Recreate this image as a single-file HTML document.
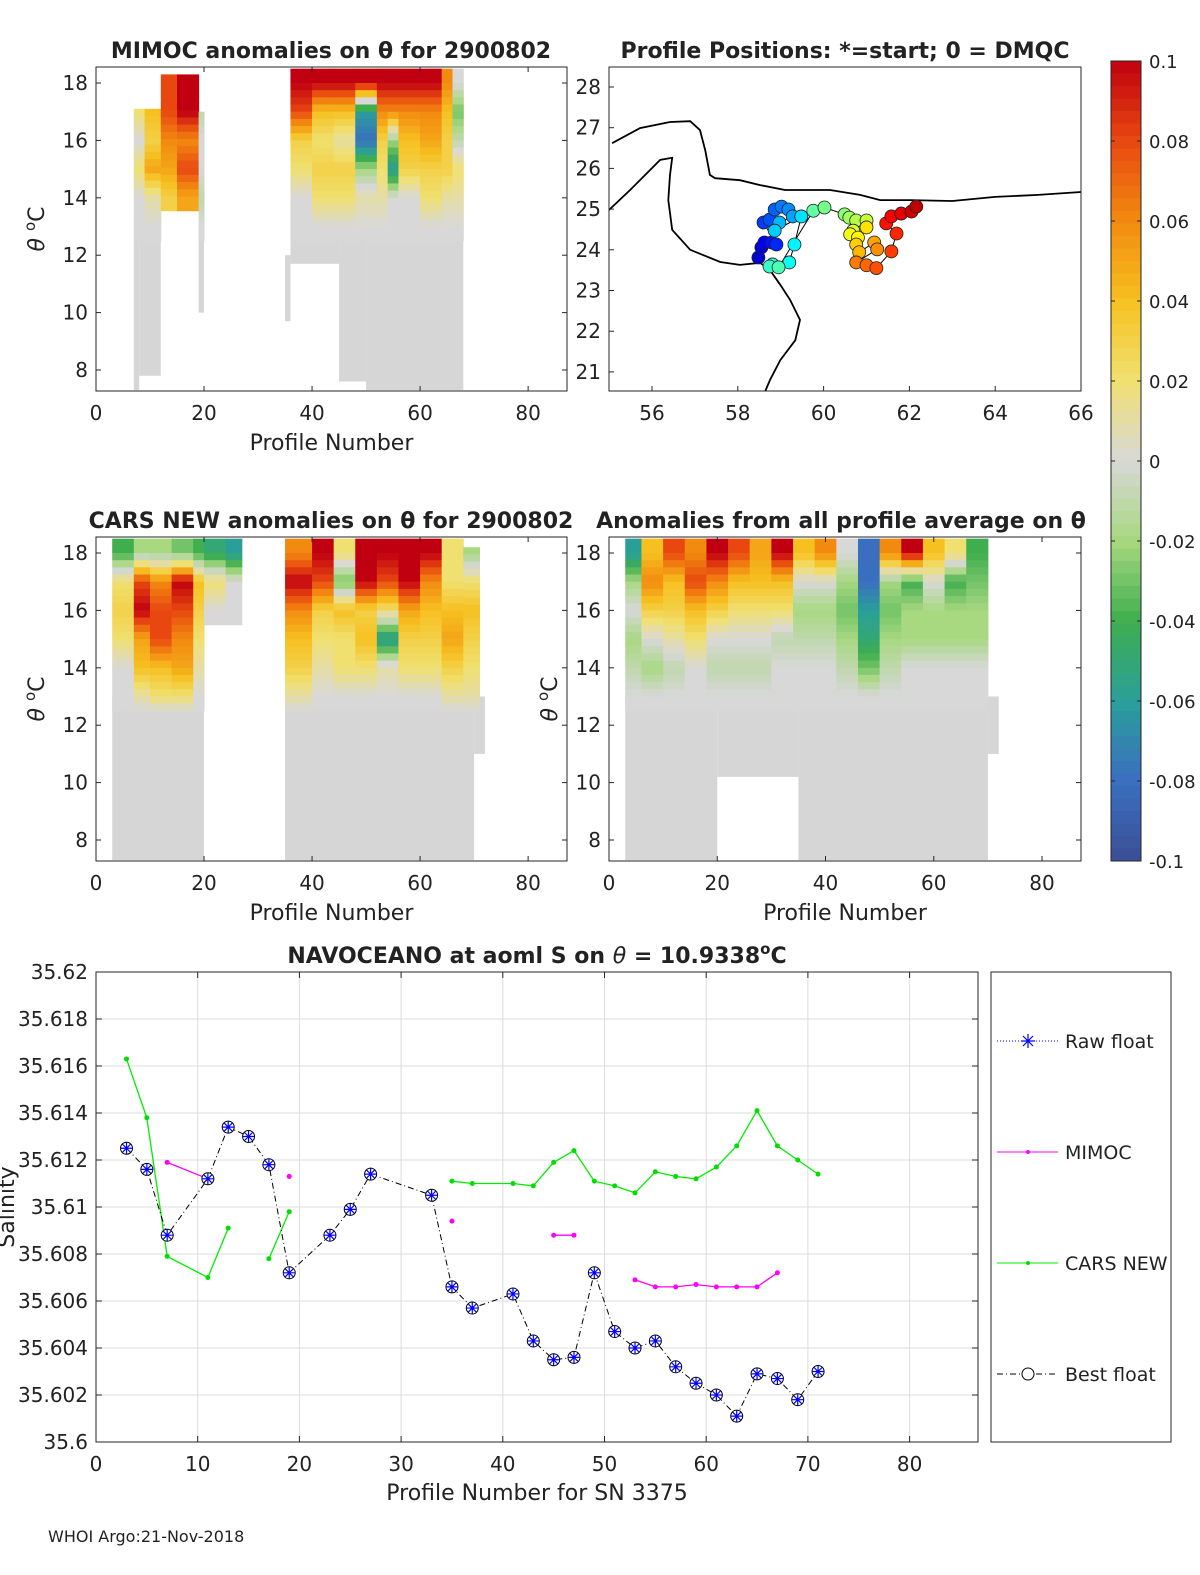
<!DOCTYPE html>
<html><head><meta charset="utf-8"><style>
html,body{margin:0;padding:0;background:#fff;width:1200px;height:1575px;overflow:hidden}
svg text{font-family:"DejaVu Sans","Liberation Sans",sans-serif}
</style></head><body>
<svg id="fig" width="1200" height="1575" viewBox="0 0 1200 1575" xmlns="http://www.w3.org/2000/svg"></svg>
<script>
// ---------- data ----------
const bandTop = [18.56, 17.5, 16.5, 15.5, 14.5, 13.5];
const bandBot = [17.5, 16.5, 15.5, 14.5, 13.5, 12.5];
// MIMOC panel
const mimocCols = [[7,9,17.1],[9,12,17.1],[12,15,18.3],[15,19,18.3],[19,20,17.0],[36,40,18.5],[40,44,18.5],[44,48,18.5],[48,52,18.5],[52,54,18.5],[54,56,18.5],[56,60,18.5],[60,64,18.5],[64,66,18.5],[66,68,18.5]];
const mimocVals = [[0.04,0.02,0.0,0.02,0.0,0],[0.06,0.04,0.03,0.05,0.01,0],[0.08,0.08,0.06,0.05,0.03,null],[0.1,0.1,0.06,0.08,0.05,null],[-0.01,-0.01,0,0,-0.01,0],[0.1,0.08,0.03,0.02,0.0,0],[0.1,0.04,0.02,0.03,0.02,0],[0.1,0.04,0.01,0.03,0.02,0],[0.1,-0.06,-0.08,-0.02,0.01,0],[0.1,0.06,0.03,0.02,0.01,0],[0.1,0.06,-0.02,-0.06,0.0,0],[0.1,0.06,0.04,0.03,0.0,0],[0.1,0.06,0.05,0.03,0.02,0],[0.06,0.04,0.03,0.03,0.01,0],[0.0,-0.03,-0.01,0.02,0.01,0]];
const mimocGrey = [[7,8,7.3,13],[8,12,7.8,13],[19,20,10,13],[35,36,9.7,12],[36,45,11.7,12.6],[45,50,7.6,12.6],[50,68,7.3,12.6]];
// CARS panel
const carsCols = [[3,7,18.5],[7,10,18.5],[10,14,18.5],[14,18,18.5],[18,20,18.5],[20,24,18.5],[24,27,18.5],[35,40,18.5],[40,44,18.5],[44,48,18.5],[48,52,18.5],[52,56,18.5],[56,60,18.5],[60,64,18.5],[64,68,18.5],[68,71,18.2]];
const carsVals = [[-0.04,0.02,0.03,0.02,0.0,0],[-0.02,0.08,0.1,0.05,0.04,0.01],[-0.02,0.06,0.08,0.08,0.04,0.02],[-0.03,0.1,0.08,0.06,0.05,0.02],[-0.04,0.04,0.03,0.02,0.01,0],[-0.05,0.02,0.0,null,null,null],[-0.06,0.0,0.0,null,null,null],[0.06,0.1,0.06,0.04,0.03,0.01],[0.1,0.08,0.03,0.02,0.01,0],[0.02,-0.03,0.04,0.02,0.02,0.0],[0.1,0.1,0.03,0.04,0.02,0.0],[0.1,0.08,0.02,-0.06,0.01,0],[0.1,0.1,0.05,0.03,0.02,0],[0.1,0.06,0.04,0.03,0.02,0],[0.02,0.02,0.04,0.05,0.03,0.01],[-0.02,0.02,0.04,0.03,0.02,0.01]];
const carsGrey = [[3,20,7.3,13],[35,70,7.3,13],[70,72,11,13]];
// all-profile average panel
const avgCols = [[3,6,18.5],[6,10,18.5],[10,14,18.5],[14,18,18.5],[18,22,18.5],[22,26,18.5],[26,30,18.5],[30,34,18.5],[34,38,18.5],[38,42,18.5],[42,46,18.5],[46,50,18.5],[50,54,18.5],[54,58,18.5],[58,62,18.5],[62,66,18.5],[66,70,18.5]];
const avgVals = [[-0.06,-0.02,0.0,-0.02,-0.01,0],[0.04,0.06,0.03,0.0,-0.02,0],[0.08,0.04,0.03,0.01,-0.01,0],[0.06,0.08,0.04,0.02,0,0],[0.1,0.06,0.03,0.0,-0.01,0],[0.08,0.04,0.02,0.0,-0.01,0],[0.05,0.04,0.02,0.0,-0.01,0],[0.1,0.04,0.02,-0.01,0,0],[0.04,0.0,-0.02,-0.01,0,0],[0.06,0.0,-0.02,-0.01,0,0],[0.0,-0.02,-0.03,-0.02,-0.01,0],[-0.08,-0.08,-0.06,-0.05,-0.03,0],[0.06,-0.02,-0.03,-0.02,-0.01,0],[0.1,-0.04,-0.02,-0.02,0,0],[0.04,0.0,-0.02,-0.02,0,0],[0.02,-0.04,-0.02,-0.02,0,0],[-0.04,-0.03,-0.02,-0.02,0,0]];
const avgGrey = [[3,20,7.3,13],[20,35,10.2,13],[35,70,7.3,13],[70,72,11,13]];
// map
const mapLon = [58.48,58.55,58.62,58.79,58.9,58.6,58.74,58.86,59.02,59.18,59.28,58.97,58.86,59.48,59.32,59.2,58.81,58.74,58.95,59.76,60.02,60.49,60.6,60.76,61.0,60.69,60.62,60.8,61.0,60.76,60.83,61.18,61.25,60.76,61.0,61.23,61.58,61.7,61.46,61.58,61.81,62.05,62.16];
const mapLat = [23.81,24.06,24.18,24.18,24.13,24.67,24.74,24.99,25.06,24.99,24.82,24.67,24.47,24.82,24.13,23.69,23.64,23.59,23.57,24.96,25.04,24.87,24.79,24.72,24.72,24.47,24.38,24.3,24.55,24.13,23.94,24.18,24.01,23.69,23.62,23.55,23.96,24.4,24.65,24.82,24.89,24.94,25.06];
const iranLon = [55.07,55.72,56.42,56.89,57.12,57.24,57.35,57.47,58.05,58.52,59.1,59.45,60.15,60.85,61.32,62.02,63.0,64.0,65.0,66.0];
const iranLat = [26.62,26.99,27.14,27.16,26.94,26.45,25.84,25.76,25.71,25.59,25.47,25.47,25.47,25.35,25.22,25.22,25.2,25.3,25.35,25.42];
const arabLon = [55.0,55.49,56.19,56.47,56.42,56.38,56.47,56.89,57.59,58.05,58.52,58.75,58.99,59.22,59.45,59.34,58.99,58.75,58.64];
const arabLat = [24.98,25.47,26.21,26.26,25.84,25.22,24.49,24.0,23.7,23.63,23.68,23.5,23.14,22.77,22.28,21.78,21.29,20.8,20.53];
// salinity line chart
const profX = [3,5,7,11,13,15,17,19,23,25,27,33,35,37,41,43,45,47,49,51,53,55,57,59,61,63,65,67,69,71];
const bestS = [35.6125,35.6116,35.6088,35.6112,35.6134,35.6130,35.6118,35.6072,35.6088,35.6099,35.6114,35.6105,35.6066,35.6057,35.6063,35.6043,35.6035,35.6036,35.6072,35.6047,35.6040,35.6043,35.6032,35.6025,35.6020,35.6011,35.6029,35.6027,35.6018,35.6030];
const mimocX = [7,11,null,19,null,35,null,45,47,null,53,55,57,59,61,63,65,67];
const mimocS = [35.6119,35.6112,null,35.6113,null,35.6094,null,35.6088,35.6088,null,35.6069,35.6066,35.6066,35.6067,35.6066,35.6066,35.6066,35.6072];
const carsX = [3,5,7,11,13,null,17,19,null,35,37,41,43,45,47,49,51,53,55,57,59,61,63,65,67,69,71];
const carsS = [35.6163,35.6138,35.6079,35.6070,35.6091,null,35.6078,35.6098,null,35.6111,35.6110,35.6110,35.6109,35.6119,35.6124,35.6111,35.6109,35.6106,35.6115,35.6113,35.6112,35.6117,35.6126,35.6141,35.6126,35.6120,35.6114];
const salTicks = [35.6,35.602,35.604,35.606,35.608,35.61,35.612,35.614,35.616,35.618,35.62];
const salTickLabels = ["35.6","35.602","35.604","35.606","35.608","35.61","35.612","35.614","35.616","35.618","35.62"];
const profTicks = [0,10,20,30,40,50,60,70,80];
const cbTicks = [0.1,0.08,0.06,0.04,0.02,0,-0.02,-0.04,-0.06,-0.08,-0.1];
const cbLabels = ["0.1","0.08","0.06","0.04","0.02","0","-0.02","-0.04","-0.06","-0.08","-0.1"];

// ---------- helpers ----------
const NS="http://www.w3.org/2000/svg";
const svg=document.getElementById('fig');
function mk(tag,attrs,parent){const e=document.createElementNS(NS,tag);for(const k in attrs)e.setAttribute(k,attrs[k]);(parent||svg).appendChild(e);return e;}
function txt(s,x,y,size,anchor,weight,parent){const t=mk('text',{x:x,y:y,'font-size':size,'text-anchor':anchor||'middle','font-weight':weight||'normal',fill:'#222'},parent);t.textContent=s;return t;}
const stops=[[-0.1,[58,79,150]],[-0.08,[58,111,192]],[-0.06,[42,159,154]],[-0.04,[63,174,79]],[-0.02,[168,216,128]],[0,[216,216,216]],[0.02,[240,224,112]],[0.04,[246,192,32]],[0.06,[242,138,16]],[0.08,[232,72,16]],[0.1,[192,0,16]]];
function cmap(v){v=Math.max(-0.1,Math.min(0.1,v));for(let i=0;i<stops.length-1;i++){const a=stops[i],b=stops[i+1];if(v<=b[0]){const t=(v-a[0])/(b[0]-a[0]);const c=a[1].map((x,j)=>Math.round(x+(b[1][j]-x)*t));return `rgb(${c})`;}}return 'rgb(192,0,16)';}
function jet(t){const r=Math.max(0,Math.min(1,1.5-Math.abs(4*t-3))),g=Math.max(0,Math.min(1,1.5-Math.abs(4*t-2))),b=Math.max(0,Math.min(1,1.5-Math.abs(4*t-1)));return `rgb(${Math.round(r*255)},${Math.round(g*255)},${Math.round(b*255)})`;}
function grp(name){const g=mk('g',{});return g;}

function colValue(vals,th){
  // interpolate vertically between band centers
  const centers=bandTop.map((t,j)=>(Math.min(t,18.5)+bandBot[j])/2);
  if(th>=centers[0])return vals[0];
  for(let j=0;j<centers.length-1;j++){
    if(th<=centers[j]&&th>=centers[j+1]){const a=vals[j],b=vals[j+1];if(a===null)return b;if(b===null)return a;const t=(centers[j]-th)/(centers[j]-centers[j+1]);return a+(b-a)*t;}
  }
  const last=vals[vals.length-1];return last===null?null:last*(th-12.5)/(centers[centers.length-1]-12.5);
}

function heatPanel(name,X0,X1,Y0,Y1,yAt18,yAt8,cols,vals,grey,title,titleX){
  const g=grp(name);
  const sx=p=>X0+p*((X1-X0)/87.2);
  const sy=th=>yAt8+(th-8)*(yAt18-yAt8)/10;
  grey.forEach(r=>{const e=mk('rect',{x:sx(r[0]),y:sy(r[3]),width:sx(r[1])-sx(r[0]),height:sy(r[2])-sy(r[3]),fill:'#d6d6d6'},g);
    });
  const step=0.25;
  cols.forEach((c,i)=>{
    for(let th=c[2];th>12.5;th-=step){
      const lo=Math.max(12.5,th-step);const v=colValue(vals[i],(th+lo)/2);
      const bi=bandTop.findIndex((t,j)=>(th+lo)/2<=t&&(th+lo)/2>bandBot[j]);
      if(v===null||(bi>=0&&vals[i][bi]===null))continue;
      const e=mk('rect',{x:sx(c[0]),y:sy(th),width:sx(c[1])-sx(c[0])+0.5,height:sy(lo)-sy(th)+0.5,fill:cmap(v)},g);
      
    }});
  mk('rect',{x:X0,y:Y0,width:X1-X0,height:Y1-Y0,fill:'none',stroke:'#262626','stroke-width':1},g);
  [0,20,40,60,80].forEach(p=>{mk('line',{x1:sx(p),x2:sx(p),y1:Y1,y2:Y1-5,stroke:'#262626'},g);mk('line',{x1:sx(p),x2:sx(p),y1:Y0,y2:Y0+5,stroke:'#262626'},g);
    const t=txt(String(p),sx(p),Y1+29,20,'middle','normal',g);});
  [8,10,12,14,16,18].forEach(th=>{mk('line',{x1:X0,x2:X0+5,y1:sy(th),y2:sy(th),stroke:'#262626'},g);mk('line',{x1:X1,x2:X1-5,y1:sy(th),y2:sy(th),stroke:'#262626'},g);
    const t=txt(String(th),X0-8,sy(th)+7,20,'end','normal',g);});
  const tt=txt(title,titleX,Y0-9,22,'middle','bold',g);
  const t=txt('Profile Number',(X0+X1)/2,Y1+59,22,'middle','normal',g);
  const ty=mk('text',{x:0,y:0,'font-size':22,'text-anchor':'middle',fill:'#222',transform:`translate(${X0-52},${(Y0+Y1)/2}) rotate(-90)`},g);ty.innerHTML='<tspan font-style="italic">θ</tspan> <tspan baseline-shift="super" font-size="15">o</tspan>C';
}

heatPanel('mimoc-anomaly-panel',96,567,67,391,83,370,mimocCols,mimocVals,mimocGrey,'MIMOC anomalies on θ  for 2900802',331);
heatPanel('cars-anomaly-panel',96,567,537,861,553,840,carsCols,carsVals,carsGrey,'CARS NEW anomalies on θ for 2900802',331);
heatPanel('average-anomaly-panel',609,1081,537,861,553,840,avgCols,avgVals,avgGrey,'Anomalies from all profile average on θ',841);

// ---------- map ----------
(function(){
  const g=grp('profile-position-map');
  const X0=609,X1=1081,Y0=67,Y1=391;
  const sx=l=>652+(l-56)*42.9, sy=la=>87+(28-la)*40.7;
  const mkpath=(lo,la)=>lo.map((v,i)=>(i?'L':'M')+sx(v).toFixed(1)+','+sy(la[i]).toFixed(1)).join('');
  let p=mk('path',{d:mkpath(iranLon,iranLat),fill:'none',stroke:'#000','stroke-width':1.8},g);
  p=mk('path',{d:mkpath(arabLon,arabLat),fill:'none',stroke:'#000','stroke-width':1.8},g);
  p=mk('path',{d:mapLon.map((v,i)=>(i?'L':'M')+sx(v).toFixed(1)+','+sy(mapLat[i]).toFixed(1)).join(''),fill:'none',stroke:'#000','stroke-width':1},g);
  mapLon.forEach((v,i)=>{const c=mk('circle',{cx:sx(v),cy:sy(mapLat[i]),r:6.5,fill:jet(0.08+0.86*i/(mapLon.length-1)),stroke:'#222','stroke-width':0.8},g);
    });
  mk('rect',{x:X0,y:Y0,width:X1-X0,height:Y1-Y0,fill:'none',stroke:'#262626'},g);
  [56,58,60,62,64,66].forEach(l=>{mk('line',{x1:sx(l),x2:sx(l),y1:Y1,y2:Y1-5,stroke:'#262626'},g);const t=txt(String(l),sx(l),Y1+29,20,'middle','normal',g);});
  [21,22,23,24,25,26,27,28].forEach(l=>{mk('line',{x1:X0,x2:X0+5,y1:sy(l),y2:sy(l),stroke:'#262626'},g);const t=txt(String(l),X0-8,sy(l)+7,20,'end','normal',g);});
  const t=txt('Profile Positions: *=start; 0 = DMQC',845,58,22,'middle','bold',g);
})();

// ---------- colorbar ----------
(function(){
  const g=grp('colorbar');
  const X=1111,W=30,Y0=61,Y1=861;
  const sy=v=>Y0+(0.1-v)/0.2*(Y1-Y0);
  for(let k=0;k<64;k++){const v0=0.1-k*0.2/64;const e=mk('rect',{x:X,y:sy(v0),width:W,height:(Y1-Y0)/64+0.5,fill:cmap(v0-0.1/64)},g);}
  mk('rect',{x:X,y:Y0,width:W,height:Y1-Y0,fill:'none',stroke:'#262626'},g);
  cbTicks.forEach((v,i)=>{mk('line',{x1:X+W,x2:X+W-4,y1:sy(v),y2:sy(v),stroke:'#262626'},g);mk('line',{x1:X,x2:X+4,y1:sy(v),y2:sy(v),stroke:'#262626'},g);
    const t=txt(cbLabels[i],X+W+8,sy(v)+7,18,'start','normal',g);});
})();

// ---------- salinity chart ----------
(function(){
  const g=grp('salinity-chart');
  const X0=96,X1=978,Y0=972,Y1=1442;
  const sx=p=>X0+p*10.17, sy=s=>Y1-(s-35.6)/0.02*(Y1-Y0);
  profTicks.forEach(p=>{mk('line',{x1:sx(p),x2:sx(p),y1:Y0,y2:Y1,stroke:'#dcdcdc'},g);});
  salTicks.forEach(s=>{mk('line',{x1:X0,x2:X1,y1:sy(s),y2:sy(s),stroke:'#dcdcdc'},g);});
  mk('rect',{x:X0,y:Y0,width:X1-X0,height:Y1-Y0,fill:'none',stroke:'#262626'},g);
  profTicks.forEach(p=>{mk('line',{x1:sx(p),x2:sx(p),y1:Y1,y2:Y1-6,stroke:'#262626'},g);mk('line',{x1:sx(p),x2:sx(p),y1:Y0,y2:Y0+6,stroke:'#262626'},g);
    const t=txt(String(p),sx(p),Y1+29,20,'middle','normal',g);});
  salTicks.forEach((s,i)=>{mk('line',{x1:X0,x2:X0+6,y1:sy(s),y2:sy(s),stroke:'#262626'},g);mk('line',{x1:X1,x2:X1-6,y1:sy(s),y2:sy(s),stroke:'#262626'},g);
    const t=txt(salTickLabels[i],X0-8,sy(s)+7,20,'end','normal',g);});
  function segs(xs,ys){let d='',pen=false;xs.forEach((x,i)=>{if(x===null||ys[i]===null){pen=false;return;}d+=(pen?'L':'M')+sx(x).toFixed(1)+','+sy(ys[i]).toFixed(1);pen=true;});return d;}
  let p=mk('path',{d:segs(carsX,carsS),fill:'none',stroke:'#00ee00','stroke-width':1.3},g);
  carsX.forEach((x,i)=>{if(x===null)return;const c=mk('circle',{cx:sx(x),cy:sy(carsS[i]),r:2.5,fill:'#00dd00'},g);});
  p=mk('path',{d:segs(mimocX,mimocS),fill:'none',stroke:'#ff00ff','stroke-width':1.3},g);
  mimocX.forEach((x,i)=>{if(x===null)return;const c=mk('circle',{cx:sx(x),cy:sy(mimocS[i]),r:2.5,fill:'#ff00ff'},g);});
  p=mk('path',{d:segs(profX,bestS),fill:'none',stroke:'#000','stroke-width':1,'stroke-dasharray':'6 3 1 3'},g);
  profX.forEach((x,i)=>{const cx=sx(x),cy=sy(bestS[i]);
    const c=mk('circle',{cx:cx,cy:cy,r:6,fill:'#fff',stroke:'#000','stroke-width':1},g);
    const s=mk('path',{d:`M${cx-6},${cy}L${cx+6},${cy}M${cx},${cy-6}L${cx},${cy+6}M${cx-4},${cy-4}L${cx+4},${cy+4}M${cx-4},${cy+4}L${cx+4},${cy-4}`,stroke:'#0000ff','stroke-width':1.2},g);});
  let t=txt('Profile Number for SN 3375',537,1500,22,'middle','normal',g);
  t=mk('text',{x:0,y:0,'font-size':22,'text-anchor':'middle',fill:'#222',transform:`translate(14,1207) rotate(-90)`},g);t.textContent='Salinity';
  t=mk('text',{x:537,y:963,'font-size':22,'text-anchor':'middle','font-weight':'bold',fill:'#222'},g);t.innerHTML='NAVOCEANO at aoml S on <tspan font-style="italic" font-weight="normal">θ</tspan> = 10.9338<tspan baseline-shift="super" font-size="15">o</tspan>C';
  // legend
  const lg=mk('g',{},g);
  mk('rect',{x:991,y:972,width:180,height:470,fill:'#fff',stroke:'#262626'},lg);
  const ent=[['Raw float',1041,'raw'],['MIMOC',1152,'mimoc'],['CARS NEW',1263,'cars'],['Best float',1374,'best']];
  ent.forEach(e=>{const y=e[1];const eg=mk('g',{},lg);
    if(e[2]==='raw'){mk('line',{x1:997,x2:1058,y1:y,y2:y,stroke:'#0000ff','stroke-dasharray':'1 2'},eg);mk('path',{d:`M1021,${y}L1035,${y}M1028,${y-7}L1028,${y+7}M1023,${y-5}L1033,${y+5}M1023,${y+5}L1033,${y-5}`,stroke:'#0000ff','stroke-width':1.2},eg);}
    if(e[2]==='mimoc'){mk('line',{x1:997,x2:1058,y1:y,y2:y,stroke:'#ff00ff'},eg);mk('circle',{cx:1028,cy:y,r:2,fill:'#ff00ff'},eg);}
    if(e[2]==='cars'){mk('line',{x1:997,x2:1058,y1:y,y2:y,stroke:'#00ee00'},eg);mk('circle',{cx:1028,cy:y,r:2,fill:'#00dd00'},eg);}
    if(e[2]==='best'){mk('line',{x1:997,x2:1058,y1:y,y2:y,stroke:'#000','stroke-dasharray':'6 3 1 3'},eg);mk('circle',{cx:1028,cy:y,r:6,fill:'#fff',stroke:'#000'},eg);}
    txt(e[0],1065,y+7,19,'start','normal',eg);});
})();
let ft=txt('WHOI Argo:21-Nov-2018',48,1542,16,'start','normal');
</script>
</body></html>
